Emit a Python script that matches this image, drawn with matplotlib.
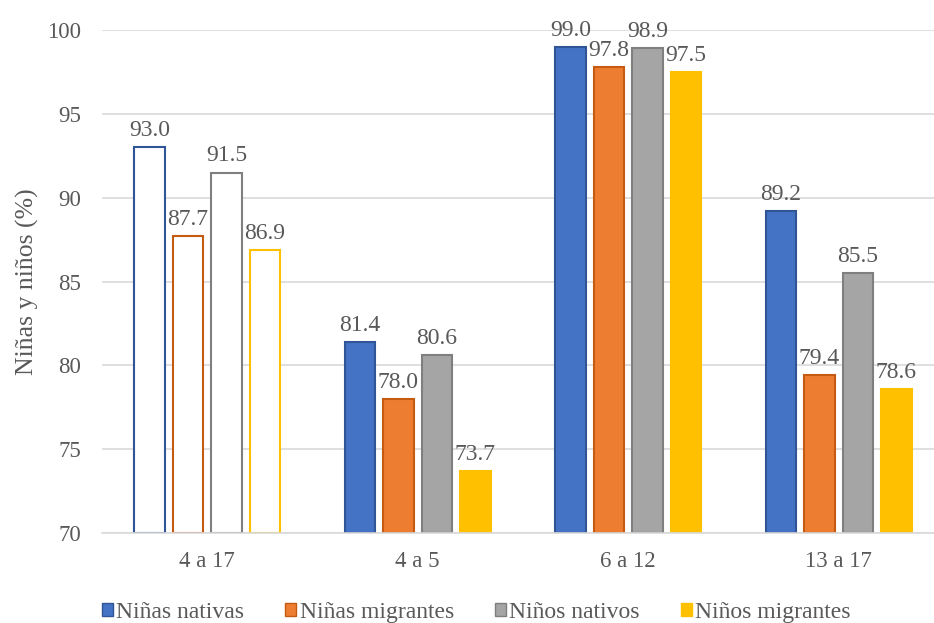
import numpy as np
import matplotlib
matplotlib.use("Agg")
import matplotlib.pyplot as plt
from matplotlib.patches import Patch

plt.rcParams["font.family"] = ["Liberation Serif", "DejaVu Serif"]

grupos = ["4 a 17", "4 a 5", "6 a 12", "13 a 17"]
series = ["Niñas nativas", "Niñas migrantes", "Niños nativos", "Niños migrantes"]
ninas_nativas = [93.0, 81.4, 99.0, 89.2]
ninas_migrantes = [87.7, 78.0, 97.8, 79.4]
ninos_nativos = [91.5, 80.6, 98.9, 85.5]
ninos_migrantes = [86.9, 73.7, 97.5, 78.6]

valores = [ninas_nativas, ninas_migrantes, ninos_nativos, ninos_migrantes]
relleno = ["#4472C4", "#ED7D31", "#A5A5A5", "#FFC000"]
borde = ["#2F5597", "#C55A11", "#7F7F7F", "#FFC000"]
gris = "#595959"

fig = plt.figure(figsize=(9.34, 6.23), dpi=100)
ax = fig.add_axes([102 / 934, 90 / 623, 832 / 934, 503 / 623])

x = np.arange(len(grupos))
ancho = 0.145
paso = 0.183

for i, (vals, fc, ec) in enumerate(zip(valores, relleno, borde)):
    pos = x + (i - 1.5) * paso
    for j, (p, v) in enumerate(zip(pos, vals)):
        # el primer grupo (total) va sin relleno
        face = "white" if j == 0 else fc
        ax.bar(p, v - 70, bottom=70, width=ancho, color=face, edgecolor=ec,
               linewidth=1.5, zorder=3)
        ax.annotate(f"{v:.1f}", (p, v), xytext=(0, 8), textcoords="offset points",
                    ha="center", va="baseline", fontsize=17, color=gris)

ax.set_ylim(70, 100)
ax.set_yticks(range(70, 101, 5))
ax.set_xlim(-0.5, 3.453)
ax.set_xticks(x)
ax.set_xticklabels(grupos)
ax.tick_params(axis="both", length=0, labelsize=16.5, colors=gris)
ax.tick_params(axis="x", pad=13)
ax.tick_params(axis="y", pad=15)
ax.grid(axis="y", color="#D9D9D9", linewidth=1.2, zorder=0)
for s in ["top", "right", "left"]:
    ax.spines[s].set_visible(False)
ax.spines["bottom"].set_color("#D9D9D9")
ax.spines["bottom"].set_linewidth(1.2)
ax.spines["bottom"].set_zorder(4)
ax.set_ylabel("Niñas y niños (%)", fontsize=18.5, color=gris, labelpad=6)

handles = [Patch(facecolor=fc, edgecolor=ec, label=s)
           for s, fc, ec in zip(series, relleno, borde)]
fig.legend(handles=handles, loc="lower center", bbox_to_anchor=(0.51, -0.034),
           ncol=4, frameon=False, labelcolor=gris,
           prop={"family": "Liberation Serif", "size": 17},
           handlelength=0.45, handleheight=0.45, handletextpad=0.15,
           columnspacing=1.75)

fig.savefig("out.png", dpi=100)
